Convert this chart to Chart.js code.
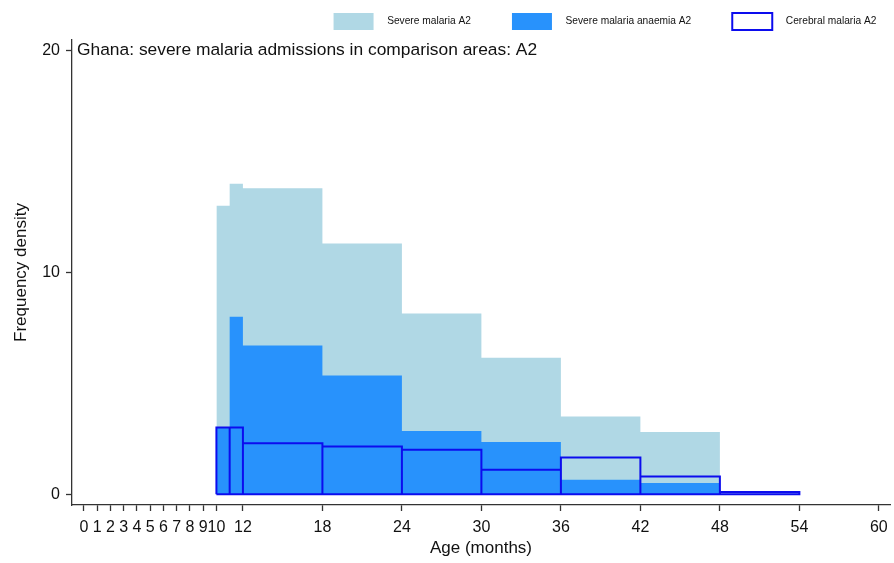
<!DOCTYPE html>
<html>
<head>
<meta charset="utf-8">
<title>Ghana: severe malaria admissions in comparison areas: A2</title>
<script src="https://cdn.jsdelivr.net/npm/chart.js@4.4.1/dist/chart.umd.min.js"></script>
<style>
  html, body { margin: 0; padding: 0; background: #fff; }
</style>
</head>
<body>
<canvas id="histChart" width="894" height="563"></canvas>
<script>
// bin edges (age in months) and frequency density per bin
const binEdges = [10, 11, 12, 18, 24, 30, 36, 42, 48, 54];
const severeMalaria = [13.0, 14.0, 13.8, 11.3, 8.15, 6.15, 3.5, 2.8, 0.1];
const severeAnaemia = [3.0, 8.0, 6.7, 5.35, 2.85, 2.35, 0.65, 0.5, 0];
const cerebralMalaria = [3.0, 3.0, 2.3, 2.15, 2.0, 1.1, 1.65, 0.8, 0.1];
const seriesLabels = ['Severe malaria A2', 'Severe malaria anaemia A2', 'Cerebral malaria A2'];
const xTickValues = [0, 1, 2, 3, 4, 5, 6, 7, 8, 9, 10, 12, 18, 24, 30, 36, 42, 48, 54, 60];
const yTickValues = [0, 10, 20];
const chartTitle = 'Ghana: severe malaria admissions in comparison areas: A2';

const FONT = "'Liberation Sans', Arial, sans-serif";
const axisColor = '#333';
const textColor = '#111';
const lightBlue = 'rgb(176, 216, 229)';
const dodgerBlue = 'rgb(40, 146, 252)';
const cerebralBlue = 'rgb(12, 12, 238)';

Chart.defaults.font.family = FONT;

// histogram as one filled step shape
function stepOutline(values) {
  const pts = [{x: binEdges[0], y: 0}];
  values.forEach((v, i) => {
    pts.push({x: binEdges[i], y: v});
    pts.push({x: binEdges[i + 1], y: v});
  });
  pts.push({x: binEdges[binEdges.length - 1], y: 0});
  return pts;
}

// each bar as its own box, then back along the base
function boxOutline(values) {
  const pts = [{x: binEdges[0], y: 0}];
  values.forEach((v, i) => {
    pts.push({x: binEdges[i], y: v});
    pts.push({x: binEdges[i + 1], y: v});
    pts.push({x: binEdges[i + 1], y: 0});
  });
  pts.push({x: binEdges[0], y: 0});
  return pts;
}

// title sits inside the plot, level with the top y tick
const innerTitle = {
  id: 'innerTitle',
  afterDatasetsDraw(chart) {
    const {ctx, chartArea, scales} = chart;
    ctx.save();
    ctx.font = '17.4px ' + FONT;
    ctx.fillStyle = textColor;
    ctx.textBaseline = 'middle';
    ctx.textAlign = 'left';
    ctx.fillText(chartTitle, chartArea.left + 5, scales.y.getPixelForValue(yTickValues[yTickValues.length - 1]));
    ctx.restore();
  }
};

const axisGrid = { display: true, drawOnChartArea: false, drawTicks: true, tickLength: 6, tickColor: axisColor, tickWidth: 1.3 };
const axisBorder = { display: true, color: axisColor, width: 1.3 };

new Chart(document.getElementById('histChart'), {
  type: 'line',
  data: {
    datasets: [
      {
        label: seriesLabels[0],
        data: stepOutline(severeMalaria),
        order: 3,
        fill: 'origin',
        backgroundColor: lightBlue,
        borderColor: 'transparent',
        borderWidth: 0,
        pointRadius: 0
      },
      {
        label: seriesLabels[1],
        data: stepOutline(severeAnaemia),
        order: 2,
        fill: 'origin',
        backgroundColor: dodgerBlue,
        borderColor: 'transparent',
        borderWidth: 0,
        pointRadius: 0
      },
      {
        label: seriesLabels[2],
        data: boxOutline(cerebralMalaria),
        order: 1,
        fill: false,
        backgroundColor: '#ffffff',
        borderColor: cerebralBlue,
        borderWidth: 2,
        pointRadius: 0
      }
    ]
  },
  options: {
    responsive: false,
    animation: false,
    // legend row is wide and sits right of centre; the x axis keeps its own right margin
    layout: { padding: { top: -28, right: -316, bottom: 0, left: 0 } },
    plugins: {
      tooltip: { enabled: false },
      title: { display: false },
      legend: {
        position: 'top',
        align: 'center',
        labels: {
          boxWidth: 40,
          boxHeight: 17,
          padding: 41,
          color: textColor,
          font: { size: 10.2 },
          generateLabels(chart) {
            const items = Chart.defaults.plugins.legend.labels.generateLabels(chart);
            items.sort((a, b) => a.datasetIndex - b.datasetIndex);
            items.forEach(item => { item.text = '   ' + item.text; });
            return items;
          }
        }
      }
    },
    scales: {
      x: {
        type: 'linear',
        min: -0.9,
        max: 60.84,
        afterBuildTicks: s => { s.ticks = xTickValues.map(v => ({value: v})); },
        afterFit: s => { s.paddingRight = 4; s.height = 58; },
        grid: axisGrid,
        border: axisBorder,
        ticks: {
          autoSkip: false,
          maxRotation: 0,
          padding: 7,
          color: textColor,
          font: { size: 16 },
          callback: v => String(v)
        },
        title: {
          display: true,
          text: 'Age (months)',
          color: textColor,
          font: { size: 17 },
          padding: { top: 0, bottom: 4 }
        }
      },
      y: {
        type: 'linear',
        min: -0.49,
        max: 20.48,
        afterBuildTicks: s => { s.ticks = yTickValues.map(v => ({value: v})); },
        afterFit: s => { s.width = 72; },
        grid: axisGrid,
        border: axisBorder,
        ticks: {
          padding: 6,
          color: textColor,
          font: { size: 16 },
          callback: v => String(v)
        },
        title: {
          display: true,
          text: 'Frequency density',
          color: textColor,
          font: { size: 17 },
          padding: { top: 11, bottom: 0 }
        }
      }
    }
  },
  plugins: [innerTitle]
});
</script>
</body>
</html>
